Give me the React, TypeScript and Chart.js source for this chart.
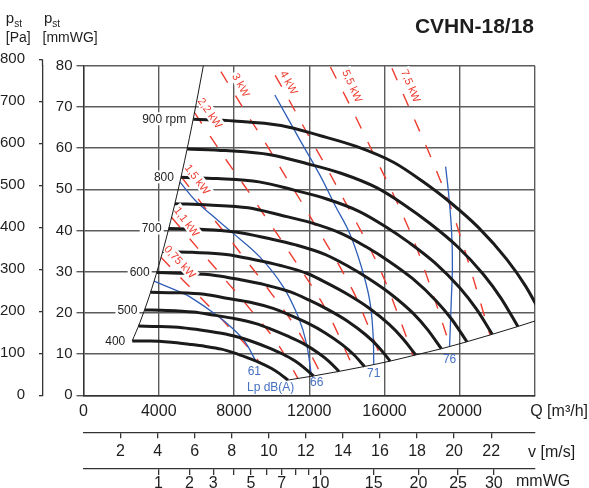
import React, { useEffect, useRef } from 'react';
import { Chart, registerables } from 'chart.js';

Chart.register(...registerables);

const FONT = '"Liberation Sans", Arial, Helvetica, sans-serif';
const BLACK = '#1b1b1b';
const GRID = '#5c5c5c';
const AXIS = '#333333';
const TEXT = '#1e1e1e';
const RED = '#ee3b2f';
const BLUE = '#2f5fb8';
const BLUE_TEXT = '#4670c0';

// ---------- axes ----------
const Q_MAX = 24000; // m3/h
const P_MAX = 80; // mmWG
const PA_PER_MMWG = 9.807;
const DUCT_AREA = 0.2736; // m2, outlet area for the velocity scale
const AIR_DENSITY = 1.2; // kg/m3
const qTicks = [0, 4000, 8000, 12000, 16000, 20000, 24000];
const mmwgTicks = [0, 10, 20, 30, 40, 50, 60, 70, 80];
const paTicks = [0, 100, 200, 300, 400, 500, 600, 700, 800];
const vTicks = [2, 4, 6, 8, 10, 12, 14, 16, 18, 20, 22];
const pdTicks = [1, 2, 3, 4, 5, 6, 7, 8, 9, 10, 15, 20, 25, 30];
const pdLabelled = [1, 2, 3, 5, 7, 10, 15, 20, 25, 30];

// ---------- fan curves (Q m3/h, pst mmWG) ----------
const q900 = [5830, 8000, 10500, 12600, 14500, 16500, 18000, 19500, 21000, 22500, 23500, 24450];
const p900 = [67.0, 66.6, 65.5, 63.0, 60.4, 56.5, 52.0, 46.8, 40.7, 33.0, 26.5, 18.7];
const q850 = [5510, 7560, 9920, 11900, 13690, 15580, 17000, 18420, 19830, 21250, 22190, 23090];
const p850 = [59.8, 59.4, 58.4, 56.2, 53.9, 50.4, 46.4, 41.7, 36.3, 29.4, 23.6, 16.7];
const q800 = [5180, 7110, 9330, 11200, 12890, 14670, 16000, 17330, 18670, 20000, 20890, 21730];
const p800 = [52.9, 52.6, 51.8, 49.8, 47.7, 44.6, 41.1, 37.0, 32.2, 26.1, 20.9, 14.8];
const q750 = [4860, 6670, 8750, 10500, 12080, 13750, 15000, 16250, 17500, 18750, 19580, 20380];
const p750 = [46.5, 46.2, 45.5, 43.7, 41.9, 39.2, 36.1, 32.5, 28.3, 22.9, 18.4, 13.0];
const q700 = [4530, 6220, 8170, 9800, 11280, 12830, 14000, 15170, 16330, 17500, 18280, 19020];
const p700 = [40.5, 40.3, 39.6, 38.1, 36.5, 34.2, 31.5, 28.3, 24.6, 20.0, 16.0, 11.3];
const q650 = [4210, 5780, 7580, 9100, 10470, 11920, 13000, 14080, 15170, 16250, 16970, 17660];
const p650 = [34.9, 34.7, 34.2, 32.9, 31.5, 29.5, 27.1, 24.4, 21.2, 17.2, 13.8, 9.8];
const q600 = [3890, 5330, 7000, 8400, 9670, 11000, 12000, 13000, 14000, 15000, 15670, 16300];
const p600 = [29.8, 29.6, 29.1, 28.0, 26.8, 25.1, 23.1, 20.8, 18.1, 14.7, 11.8, 8.3];
const q550 = [3560, 4890, 6420, 7700, 8860, 10080, 11000, 11920, 12830, 13750, 14360, 14940];
const p550 = [25.0, 24.9, 24.5, 23.5, 22.6, 21.1, 19.4, 17.5, 15.2, 12.3, 9.9, 7.0];
const q500 = [3240, 4440, 5830, 7000, 8060, 9170, 10000, 10830, 11670, 12500, 13060, 13580];
const p500 = [20.7, 20.6, 20.2, 19.4, 18.6, 17.4, 16.0, 14.4, 12.6, 10.2, 8.2, 5.8];
const q450 = [2920, 4000, 5250, 6300, 7250, 8250, 9000, 9750, 10500, 11250, 11750, 12230];
const p450 = [16.8, 16.7, 16.4, 15.8, 15.1, 14.1, 13.0, 11.7, 10.2, 8.3, 6.6, 4.7];
const q400 = [2590, 3560, 4670, 5600, 6440, 7330, 8000, 8670, 9330, 10000, 10440, 10870];
const p400 = [13.2, 13.2, 12.9, 12.4, 11.9, 11.2, 10.3, 9.2, 8.0, 6.5, 5.2, 3.7];
const rpmLabelSpeeds = [400, 500, 600, 700, 800, 900];

// surge limit and end-of-curve limit
const surgeQ = [2590, 3000, 3500, 4000, 4500, 5000, 5500, 6000, 6400];
const surgeP = [13.2, 17.7, 24.1, 31.5, 39.9, 49.3, 59.6, 71.0, 80.7];
const limitQ = [10870, 12230, 13580, 14940, 16300, 17660, 19020, 20380, 21730, 23090, 24450];
const limitP = [3.7, 4.7, 5.8, 7.0, 8.3, 9.8, 11.3, 13.0, 14.8, 16.7, 18.7];

// absorbed power lines (kW)
const kw075Q = [4120, 5410, 6080, 6740, 7340, 7960, 8600, 9150, 9350];
const kw075P = [33.5, 27.4, 24.4, 21.3, 18.5, 15.4, 12.4, 9.3, 7.9];
const kw11Q = [4680, 6150, 6910, 7650, 8340, 9040, 9770, 10390, 10920, 11400];
const kw11P = [43.2, 35.3, 31.4, 27.4, 23.8, 19.9, 15.9, 12.0, 8.0, 4.06];
const kw15Q = [5190, 6810, 7660, 8480, 9240, 10020, 10820, 11520, 12100, 12640];
const kw15P = [53.1, 43.4, 38.6, 33.7, 29.3, 24.5, 19.6, 14.8, 9.8, 5.0];
const kw22Q = [5900, 7740, 8700, 9640, 10500, 11390, 12300, 13090, 13750, 14360];
const kw22P = [68.6, 56.1, 49.9, 43.5, 37.8, 31.6, 25.3, 19.1, 12.7, 6.45];
const kw3Q = [6540, 8580, 9650, 10690, 11640, 12630, 13640, 14520, 15250, 15930];
const kw3P = [84.4, 69.0, 61.4, 53.5, 46.5, 38.9, 31.1, 23.5, 15.5, 7.93];
const kw4Q = [9440, 10610, 11760, 12810, 13900, 15010, 15970, 16780, 17520];
const kw4P = [83.5, 74.3, 64.7, 56.2, 47.0, 37.6, 28.4, 18.9, 9.6];
const kw55Q = [11810, 13080, 14250, 15460, 16690, 17760, 18660, 19490];
const kw55P = [91.9, 80.1, 69.6, 58.2, 46.6, 35.2, 23.4, 11.88];
const kw75Q = [15800, 17140, 18510, 19700, 20690, 21610];
const kw75P = [85.6, 71.6, 57.3, 43.3, 28.8, 14.61];

// sound pressure lines Lp dB(A)
const db61Q = [3750, 5120, 5660, 7070, 7960, 8580, 9150];
const db61P = [27.7, 25.1, 23.9, 19.5, 16.1, 13.0, 8.4];
const db66Q = [5120, 5920, 6800, 7960, 9370, 10610, 11410, 11850, 12120];
const db66P = [51.8, 47.4, 43.8, 39.3, 33.6, 26.4, 19.1, 12.6, 4.6];
const db71Q = [10170, 11500, 12560, 13360, 14150, 14770, 15210, 15390, 15430];
const db71P = [72.9, 62.0, 53.5, 46.2, 39.3, 31.2, 23.1, 15.0, 7.45];
const db76Q = [19250, 19440, 19570, 19610, 19550, 19460];
const db76P = [55.5, 47.4, 39.4, 31.2, 23.1, 11.9];

// annotation anchors (data units) – labels only
const kwLabels = [
  { text: '0,75 kW', q: 5125, p: 32.4, angle: 47 },
  { text: '1,1 kW', q: 5481, p: 42.1, angle: 53 },
  { text: '1,5 kW', q: 6054, p: 52.4, angle: 53 },
  { text: '2,2 kW', q: 6718, p: 68.5, angle: 55 },
  { text: '3 kW', q: 8364, p: 75.3, angle: 61 },
  { text: '4 kW', q: 10913, p: 75.9, angle: 61 },
  { text: '5,5 kW', q: 14286, p: 75.1, angle: 66 },
  { text: '7,5 kW', q: 17392, p: 75.1, angle: 67 },
];
const dbLabels = [
  { text: '61', q: 9080, p: 5.7 },
  { text: '66', q: 12400, p: 3.0 },
  { text: '71', q: 15430, p: 5.3 },
  { text: '76', q: 19460, p: 8.6 },
];

const V_MAX = Q_MAX / 3600 / DUCT_AREA;
const velocityOfPd = (pd: number) => Math.sqrt((2 * pd * PA_PER_MMWG) / AIR_DENSITY);

const pts = (q: number[], p: number[]) => q.map((x, i) => ({ x, y: p[i] }));

function buildConfig(): any {
  const rpmCurves: [number, number[], number[]][] = [
    [900, q900, p900], [850, q850, p850], [800, q800, p800], [750, q750, p750],
    [700, q700, p700], [650, q650, p650], [600, q600, p600], [550, q550, p550],
    [500, q500, p500], [450, q450, p450], [400, q400, p400],
  ];
  const kwLines = [
    [kw075Q, kw075P], [kw11Q, kw11P], [kw15Q, kw15P], [kw22Q, kw22P],
    [kw3Q, kw3P], [kw4Q, kw4P], [kw55Q, kw55P], [kw75Q, kw75P],
  ];
  const dbLines = [[db61Q, db61P], [db66Q, db66P], [db71Q, db71P], [db76Q, db76P]];

  const base = { showLine: true, pointRadius: 0, pointHoverRadius: 0, fill: false, xAxisID: 'x', yAxisID: 'y' };
  const datasets: any[] = [];
  datasets.push({ ...base, data: pts(surgeQ, surgeP), borderColor: BLACK, borderWidth: 1, cubicInterpolationMode: 'monotone', order: 0 });
  datasets.push({ ...base, data: pts(limitQ, limitP), borderColor: BLACK, borderWidth: 1, cubicInterpolationMode: 'monotone', order: 0 });
  const firstRpmIndex = datasets.length;
  rpmCurves.forEach(([, q, p]) =>
    datasets.push({ ...base, data: pts(q, p), borderColor: BLACK, borderWidth: 3, cubicInterpolationMode: 'monotone', order: 1 })
  );
  dbLines.forEach(([q, p]) =>
    datasets.push({ ...base, data: pts(q, p), borderColor: BLUE, borderWidth: 1.3, tension: 0.4, order: 2 })
  );
  kwLines.forEach(([q, p]) =>
    datasets.push({ ...base, data: pts(q, p), borderColor: RED, borderWidth: 1.4, borderDash: [13, 15], cubicInterpolationMode: 'monotone', order: 3 })
  );

  const labelPlugin = {
    id: 'fanLabels',
    afterDatasetDraw(chart: any, args: any) {
      if (args.index !== firstRpmIndex) return;
      const ctx = chart.ctx;
      const xs = chart.scales.x;
      const ys = chart.scales.y;
      // power labels with white knock-out
      kwLabels.forEach((l) => {
        ctx.save();
        ctx.translate(xs.getPixelForValue(l.q), ys.getPixelForValue(l.p));
        ctx.rotate((l.angle * Math.PI) / 180);
        ctx.font = `11px ${FONT}`;
        const w = ctx.measureText(l.text).width;
        ctx.fillStyle = '#fff';
        ctx.fillRect(-w / 2 - 2, -6.5, w + 4, 12);
        ctx.fillStyle = RED;
        ctx.textAlign = 'center';
        ctx.textBaseline = 'middle';
        ctx.fillText(l.text, 0, 0.5);
        ctx.restore();
      });
      // rpm labels
      rpmCurves.forEach(([n, q, p]) => {
        if (!rpmLabelSpeeds.includes(n)) return;
        const x = xs.getPixelForValue(q[0]) - 7;
        const y = ys.getPixelForValue(p[0]);
        const text = n === 900 ? '900 rpm' : String(n);
        ctx.save();
        ctx.font = `12px ${FONT}`;
        const w = ctx.measureText(text).width;
        ctx.fillStyle = '#fff';
        ctx.fillRect(x - w - 2, y - 7, w + 4, 13);
        ctx.fillStyle = TEXT;
        ctx.textAlign = 'right';
        ctx.textBaseline = 'middle';
        ctx.fillText(text, x, y + 0.5);
        ctx.restore();
      });
    },
    afterDraw(chart: any) {
      const ctx = chart.ctx;
      const xs = chart.scales.x;
      const ys = chart.scales.y;
      const pa = chart.scales.yPa;
      ctx.save();
      // Pa axis continues up to 800 Pa
      ctx.strokeStyle = AXIS;
      ctx.lineWidth = 1.3;
      ctx.beginPath();
      ctx.moveTo(Math.round(pa.right) - 0.5, pa.getPixelForValue(800));
      ctx.lineTo(Math.round(pa.right) - 0.5, pa.top);
      ctx.stroke();
      // dB labels
      ctx.fillStyle = BLUE_TEXT;
      ctx.font = `12px ${FONT}`;
      ctx.textAlign = 'center';
      ctx.textBaseline = 'middle';
      dbLabels.forEach((l) => ctx.fillText(l.text, xs.getPixelForValue(l.q), ys.getPixelForValue(l.p)));
      ctx.textAlign = 'left';
      ctx.fillText('Lp dB(A)', 247, 388);
      // title
      ctx.fillStyle = TEXT;
      ctx.font = `bold 21px ${FONT}`;
      ctx.textAlign = 'right';
      ctx.textBaseline = 'alphabetic';
      ctx.fillText('CVHN-18/18', 534, 33);
      // y axis titles
      const drawP = (x: number) => {
        ctx.font = `15px ${FONT}`;
        ctx.textAlign = 'left';
        ctx.fillText('p', x, 22.5);
        const w = ctx.measureText('p').width;
        ctx.font = `10px ${FONT}`;
        ctx.fillText('st', x + w, 27);
      };
      drawP(5.8);
      drawP(44);
      ctx.font = `14px ${FONT}`;
      ctx.fillText('[Pa]', 5.8, 42);
      ctx.fillText('[mmWG]', 42.5, 42);
      // x axis titles
      ctx.font = `16px ${FONT}`;
      ctx.textAlign = 'right';
      ctx.textBaseline = 'middle';
      ctx.fillText('Q [m³/h]', 588, 412);
      ctx.textAlign = 'left';
      ctx.fillText('v [m/s]', 528, 453);
      ctx.fillText('mmWG', 516, 482);
      ctx.restore();
    },
  };

  const tickFont = { family: FONT, size: 15 };
  const bottomFont = { family: FONT, size: 16 };

  return {
    type: 'scatter',
    data: { datasets },
    plugins: [labelPlugin],
    options: {
      animation: false,
      responsive: false,
      devicePixelRatio: 1,
      events: [],
      layout: { padding: { left: 0, top: 65.7, right: 54, bottom: 0 } },
      plugins: { legend: { display: false }, tooltip: { enabled: false }, title: { display: false } },
      scales: {
        x: {
          type: 'linear', position: 'bottom', weight: 0, min: 0, max: Q_MAX,
          afterBuildTicks: (s: any) => { s.ticks = qTicks.map((value) => ({ value })); },
          ticks: { autoSkip: false, maxRotation: 0, padding: 7, color: TEXT, font: bottomFont,
            callback: (v: any) => (v === Q_MAX ? '' : String(v)) },
          grid: { color: GRID, lineWidth: 1.4, drawTicks: false },
          border: { display: true, color: AXIS, width: 1.4 },
          afterFit: (s: any) => { s.height = 36.9; },
        },
        xv: {
          type: 'linear', position: 'bottom', weight: 1, min: 0, max: V_MAX,
          afterBuildTicks: (s: any) => { s.ticks = vTicks.map((value) => ({ value })); },
          ticks: { autoSkip: false, maxRotation: 0, padding: 4, color: TEXT, font: bottomFont,
            callback: (v: any) => String(v) },
          grid: { drawOnChartArea: false, tickLength: 6, color: AXIS, lineWidth: 1.3 },
          border: { display: true, color: AXIS, width: 1.3 },
          afterFit: (s: any) => { s.height = 36.8; },
        },
        xp: {
          type: 'linear', position: 'bottom', weight: 2, min: 0, max: V_MAX,
          afterBuildTicks: (s: any) => { s.ticks = pdTicks.map((pd) => ({ value: velocityOfPd(pd) })); },
          ticks: { autoSkip: false, maxRotation: 0, padding: -1, color: TEXT, font: bottomFont,
            callback: (_v: any, i: number) => (pdLabelled.includes(pdTicks[i]) ? String(pdTicks[i]) : '') },
          grid: { drawOnChartArea: false, tickLength: 6, color: AXIS, lineWidth: 1.3 },
          border: { display: true, color: AXIS, width: 1.3 },
          afterFit: (s: any) => { s.height = 19; },
        },
        y: {
          type: 'linear', position: 'left', weight: 0, min: 0, max: P_MAX,
          afterBuildTicks: (s: any) => { s.ticks = mmwgTicks.map((value) => ({ value })); },
          ticks: { autoSkip: false, padding: 4, color: TEXT, font: tickFont, callback: (v: any) => String(v) },
          grid: { color: GRID, lineWidth: 1.4, tickLength: 7 },
          border: { display: true, color: AXIS, width: 1.4 },
          afterFit: (s: any) => { s.width = 40.5; },
        },
        yPa: {
          type: 'linear', position: 'left', weight: 1, min: 0, max: P_MAX * PA_PER_MMWG,
          afterBuildTicks: (s: any) => { s.ticks = paTicks.map((value) => ({ value })); },
          ticks: { autoSkip: false, padding: 14, color: TEXT, font: tickFont, callback: (v: any) => String(v) },
          grid: { drawOnChartArea: false, tickLength: 4, color: AXIS, lineWidth: 1.3 },
          border: { display: true, color: AXIS, width: 1.3 },
          afterFit: (s: any) => { s.width = 43; },
        },
      },
    },
  };
}

export default function App() {
  const ref = useRef<HTMLCanvasElement>(null);
  useEffect(() => {
    const chart = new Chart(ref.current as HTMLCanvasElement, buildConfig());
    return () => chart.destroy();
  }, []);
  return (
    <div style={{ position: 'absolute', left: 0, top: 0, width: 589, height: 488, background: '#fff' }}>
      <canvas ref={ref} width={589} height={488} style={{ display: 'block' }} />
    </div>
  );
}
